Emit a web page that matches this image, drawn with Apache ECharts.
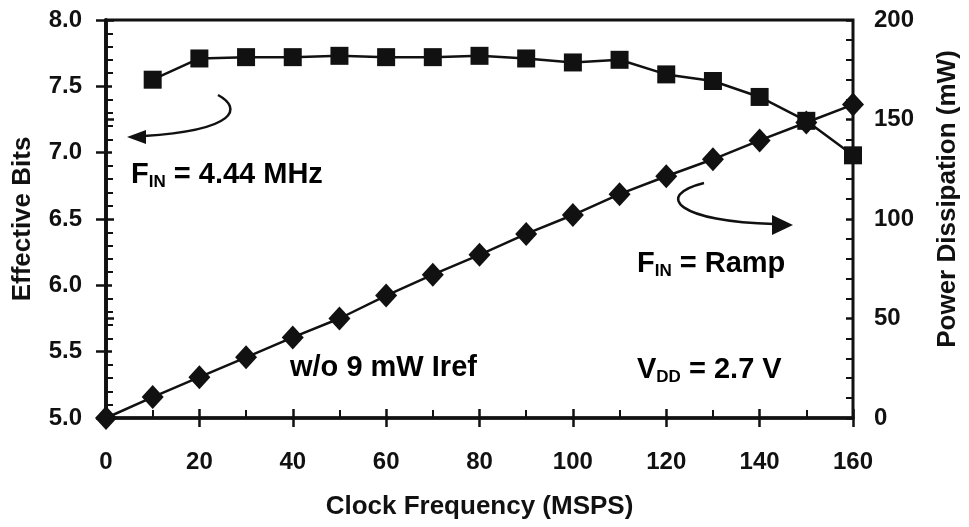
<!DOCTYPE html>
<html>
<head>
<meta charset="utf-8">
<script src="https://cdn.jsdelivr.net/npm/echarts@6/dist/echarts.min.js"></script>
<style>
  html, body { margin: 0; padding: 0; background: #fff; }
  #chart { width: 969px; height: 527px; }
</style>
</head>
<body>
<div id="chart"></div>
<script>
// Clock frequency (MSPS) sample points
const clockFreq = [0, 10, 20, 30, 40, 50, 60, 70, 80, 90, 100, 110, 120, 130, 140, 150, 160];
// Effective number of bits, F_IN = 4.44 MHz (no point at 0 MSPS)
const effBits = [null, 7.55, 7.71, 7.72, 7.72, 7.73, 7.72, 7.72, 7.73, 7.71, 7.68, 7.70, 7.59, 7.54, 7.42, 7.24, 6.98];
// Power dissipation (mW), F_IN = ramp
const powerMw = [0, 10.5, 20.5, 30.5, 40.5, 50, 61.5, 72, 82, 92.5, 102, 112.5, 121.5, 130, 139.5, 148.5, 157.5];

const FONT = '"Liberation Sans", Arial, Helvetica, sans-serif';
const INK = '#111';

const bitsData = clockFreq.map((f, i) => [f, effBits[i]]).filter(p => p[1] !== null);
const powerData = clockFreq.map((f, i) => [f, powerMw[i]]);

const chart = echarts.init(document.getElementById('chart'));

const tickLabel = { color: INK, fontFamily: FONT, fontWeight: 'bold', fontSize: 24 };
const titleStyle = { color: INK, fontFamily: FONT, fontWeight: 'bold', fontSize: 26 };
const axisLine = { show: true, lineStyle: { color: INK, width: 3.5 } };

const annoRich = {
  a: { fontFamily: FONT, fontWeight: 'bold', fontSize: 29, color: INK, lineHeight: 36 },
  s: { fontFamily: FONT, fontWeight: 'bold', fontSize: 17, color: INK, lineHeight: 36, padding: [16, 0, 0, 0] }
};

chart.setOption({
  animation: false,
  backgroundColor: '#fff',
  grid: {
    left: 106, right: 111, top: 20, bottom: 109,
    show: true, borderColor: INK, borderWidth: 3, backgroundColor: 'transparent'
  },
  xAxis: [
    {
      type: 'value', position: 'bottom', min: 0, max: 160, interval: 20,
      name: 'Clock Frequency (MSPS)', nameLocation: 'middle', nameGap: 76,
      nameTextStyle: titleStyle,
      axisLine: axisLine,
      axisTick: { show: true, inside: false, length: 9, lineStyle: { color: INK, width: 2.5 } },
      axisLabel: Object.assign({ margin: 32 }, tickLabel),
      splitLine: { show: false }
    },
    {
      type: 'value', position: 'bottom', min: 0, max: 160, interval: 20,
      axisLine: { show: false },
      axisTick: { show: true, inside: true, length: 9, lineStyle: { color: INK, width: 2.5 } },
      minorTick: { show: true, splitNumber: 2, length: 8, lineStyle: { color: INK, width: 2 } },
      axisLabel: { show: false },
      splitLine: { show: false }
    }
  ],
  yAxis: [
    {
      type: 'value', position: 'left', min: 5.0, max: 8.0, interval: 0.5,
      name: 'Effective Bits', nameLocation: 'middle', nameGap: 70,
      nameTextStyle: titleStyle,
      axisLine: axisLine,
      axisTick: { show: true, inside: false, length: 10, lineStyle: { color: INK, width: 2.5 } },
      axisLabel: Object.assign({ margin: 24, formatter: v => v.toFixed(1) }, tickLabel),
      splitLine: { show: false }
    },
    {
      type: 'value', position: 'right', min: 0, max: 200, interval: 50,
      name: 'Power Dissipation (mW)', nameLocation: 'middle', nameGap: 82,
      nameTextStyle: Object.assign({ padding: [0, 0, 0, 40] }, titleStyle),
      axisLine: axisLine,
      axisTick: { show: true, inside: false, length: 8, lineStyle: { color: INK, width: 2.5 } },
      axisLabel: Object.assign({ margin: 21 }, tickLabel),
      splitLine: { show: false }
    },
    {
      type: 'value', position: 'left', min: 5.0, max: 8.0, interval: 0.5,
      axisLine: { show: false },
      axisTick: { show: true, inside: true, length: 6, lineStyle: { color: INK, width: 2.5 } },
      minorTick: { show: true, splitNumber: 5, length: 7, lineStyle: { color: INK, width: 2 } },
      axisLabel: { show: false },
      splitLine: { show: false }
    },
    {
      type: 'value', position: 'right', min: 0, max: 200, interval: 50,
      axisLine: { show: false },
      axisTick: { show: true, inside: true, length: 7, lineStyle: { color: INK, width: 2.5 } },
      minorTick: { show: true, splitNumber: 5, length: 7, lineStyle: { color: INK, width: 2 } },
      axisLabel: { show: false },
      splitLine: { show: false }
    }
  ],
  series: [
    {
      name: 'Effective Bits',
      type: 'line', xAxisIndex: 0, yAxisIndex: 0,
      data: bitsData,
      symbol: 'rect', symbolSize: 18,
      itemStyle: { color: INK },
      lineStyle: { color: INK, width: 2.5 },
      z: 3
    },
    {
      name: 'Power Dissipation',
      type: 'line', xAxisIndex: 0, yAxisIndex: 1,
      data: powerData,
      symbol: 'diamond', symbolSize: [22, 24],
      itemStyle: { color: INK },
      lineStyle: { color: INK, width: 2.5 },
      z: 4
    }
  ],
  graphic: [
    // curved arrow pointing from the ENOB curve to its axis
    {
      type: 'bezierCurve', z: 10,
      shape: { x1: 218, y1: 95, cpx1: 242, cpy1: 108, cpx2: 238, cpy2: 130, x2: 144, y2: 136 },
      style: { stroke: INK, lineWidth: 2.5, fill: null }
    },
    {
      type: 'polygon', z: 10,
      shape: { points: [[127, 137], [146, 130], [146, 144]] },
      style: { fill: INK }
    },
    // curved arrow pointing from the power curve to its axis
    {
      type: 'bezierCurve', z: 10,
      shape: { x1: 704, y1: 183, cpx1: 652, cpy1: 196, cpx2: 680, cpy2: 222, x2: 774, y2: 224 },
      style: { stroke: INK, lineWidth: 2.5, fill: null }
    },
    {
      type: 'polygon', z: 10,
      shape: { points: [[793, 225], [772, 215], [772, 235]] },
      style: { fill: INK }
    },
    {
      type: 'text', z: 10, left: 131, top: 158,
      style: { text: '{a|F}{s|IN}{a| = 4.44 MHz}', rich: annoRich }
    },
    {
      type: 'text', z: 10, left: 637, top: 247,
      style: { text: '{a|F}{s|IN}{a| = Ramp}', rich: annoRich }
    },
    {
      type: 'text', z: 10, left: 290, top: 353,
      style: { text: '{a|w/o 9 mW Iref}', rich: annoRich }
    },
    {
      type: 'text', z: 10, left: 637, top: 353,
      style: { text: '{a|V}{s|DD}{a| = 2.7 V}', rich: annoRich }
    }
  ]
});
</script>
</body>
</html>
